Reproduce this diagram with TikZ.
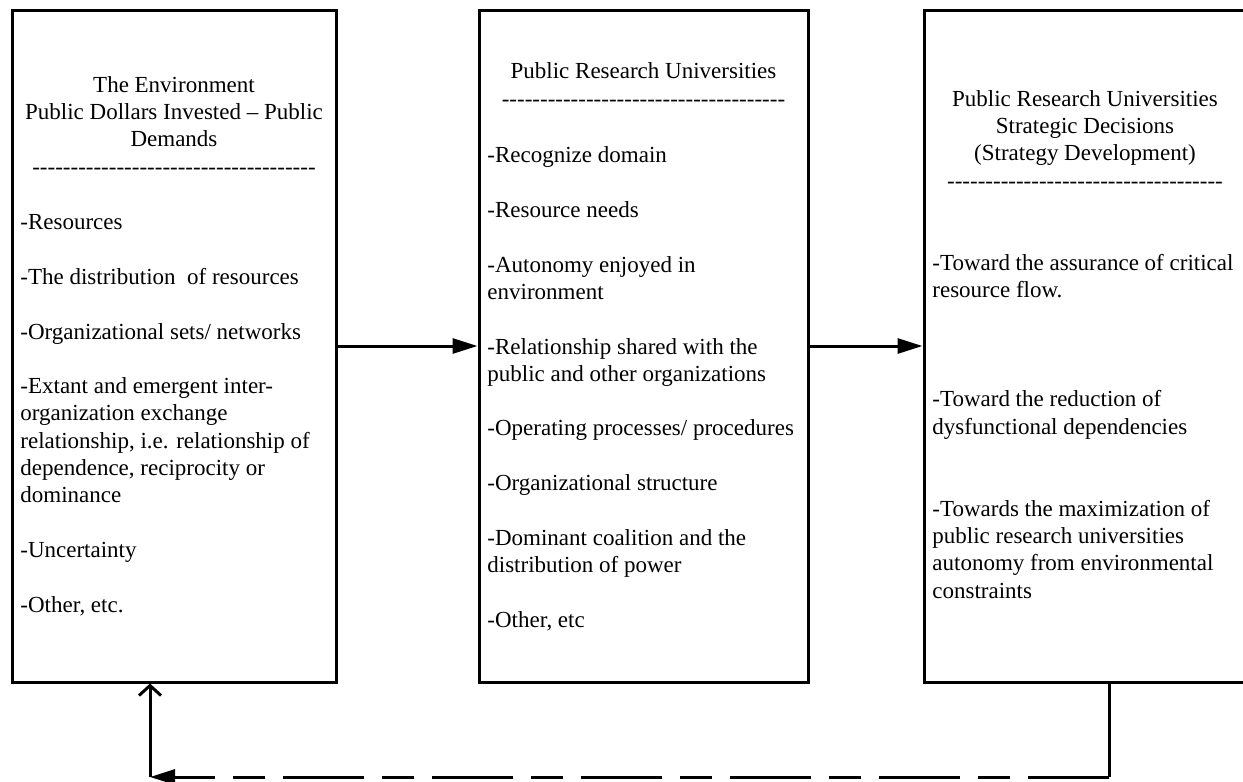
\documentclass[tikz,border=0pt]{standalone}
\usepackage{fontspec}
\setmainfont{Liberation Serif}[Ligatures=TeXOff]
\usetikzlibrary{arrows.meta}

\begin{document}
\begin{tikzpicture}[x=0.5pt, y=-0.5pt]
	\tikzstyle{box} = [draw, line width=1.5pt, minimum height=336pt, inner sep=0pt]
	\tikzstyle{title} = [align=center, inner sep=0pt, anchor=base, font=\fontsize{11.5}{13.65}\selectfont]
	\tikzstyle{items} = [align=left, inner sep=0pt, anchor=base west, font=\fontsize{11.5}{13.65}\selectfont]
	\tikzstyle{link} = [line width=1.5pt, -{Triangle[length=12.5pt, width=7.5pt]}]
	\useasboundingbox (0,0) rectangle (1243,782);
	% the three boxes
	\node[box, minimum width=162pt] (Environment) at (174, 346) {};
	\node[box, minimum width=164.5pt] (Universities) at (643.5, 346) {};
	\node[box, minimum width=161pt] (Decisions) at (1085, 346) {};
	% titles (placed at the baseline of their last line)
	\node[title] (EnvironmentTitle) at (174, 174) {The Environment\\Public Dollars Invested – Public\\Demands\\-------------------------------------};
	\node[title] (UniversitiesTitle) at (643.5, 106) {Public Research Universities\\-------------------------------------};
	\node[title] (DecisionsTitle) at (1085, 188) {Public Research Universities\\Strategic Decisions\\(Strategy Development)\\------------------------------------};
	% lists
	\node[items] (EnvironmentItems) at (20, 612) {-Resources\\[13.65pt]
		-The distribution\ \ of resources\\[13.65pt]
		-Organizational sets/ networks\\[13.65pt]
		-Extant and emergent inter-\\organization exchange\\relationship, i.e. relationship of\\dependence, reciprocity or\\dominance\\[13.65pt]
		-Uncertainty\\[13.65pt]
		-Other, etc.};
	\node[items] (UniversitiesItems) at (487, 627) {-Recognize domain\\[13.65pt]
		-Resource needs\\[13.65pt]
		-Autonomy enjoyed in\\environment\\[13.65pt]
		-Relationship shared with the\\public and other organizations\\[13.65pt]
		-Operating processes/ procedures\\[13.65pt]
		-Organizational structure\\[13.65pt]
		-Dominant coalition and the\\distribution of power\\[13.65pt]
		-Other, etc};
	\node[items] (DecisionsItems) at (932, 598) {-Toward the assurance of critical\\resource flow.\\[40.95pt]
		-Toward the reduction of\\dysfunctional dependencies\\[27.3pt]
		-Towards the maximization of\\public research universities\\autonomy from environmental\\constraints};
	% connectors
	\coordinate (FeedbackR) at (1109, 777);
	\coordinate (FeedbackL) at (150, 777);
	\draw [link] (Environment)--(Universities);
	\draw [link] (Universities)--(Decisions);
	\draw [line width=1.5pt] (Decisions.south -| FeedbackR)--(FeedbackR);
	\draw [link, dash pattern=on 40.5pt off 9pt on 16pt off 9pt] (FeedbackR)--(FeedbackL);
	\draw [line width=1.5pt, -{Straight Barb[length=5pt, width=11pt]}] (FeedbackL)--(Environment.south -| FeedbackL);
\end{tikzpicture}
\end{document}
